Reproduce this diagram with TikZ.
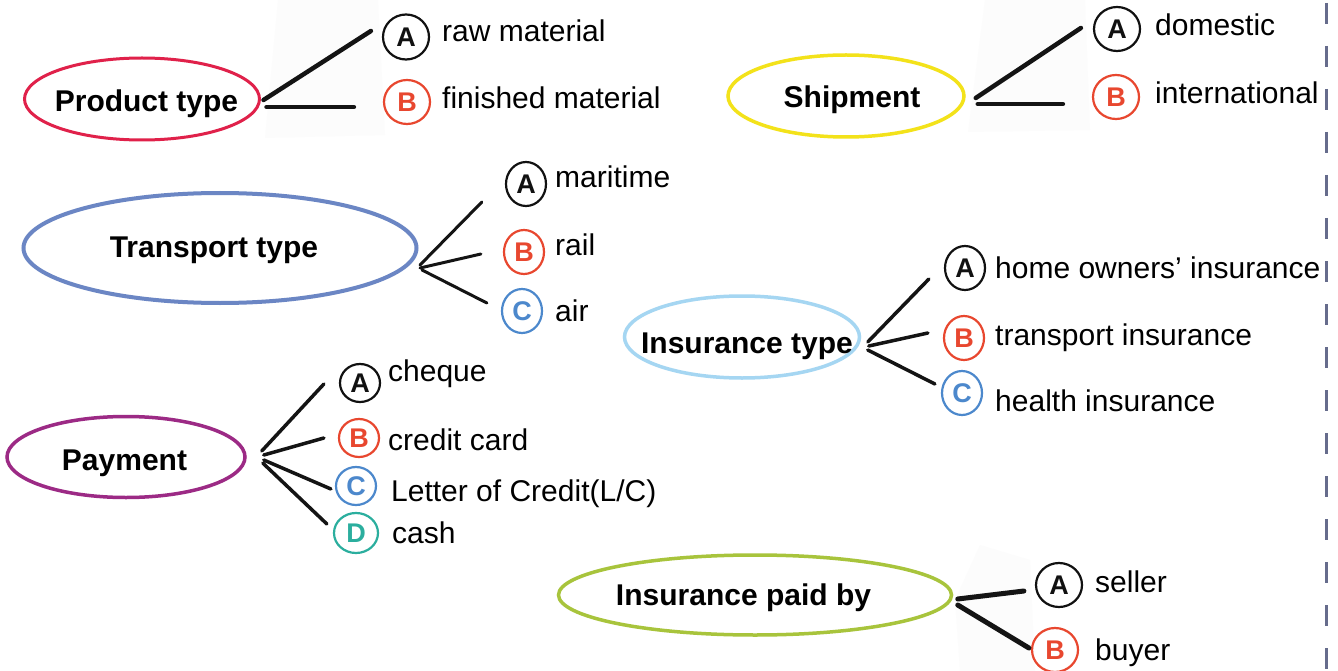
\documentclass[tikz,border=0pt]{standalone}
\usepackage{fontspec}
\setmainfont{Liberation Sans}
\usetikzlibrary{shapes.geometric}
\definecolor{cRed}{HTML}{E0214A}
\definecolor{cYellow}{HTML}{F3E21A}
\definecolor{cTrans}{HTML}{6B86C4}
\definecolor{cIns}{HTML}{A5D6F2}
\definecolor{cPay}{HTML}{9C2A85}
\definecolor{cGreen}{HTML}{A8C43C}
\definecolor{lA}{HTML}{111111}
\definecolor{lB}{HTML}{E8472F}
\definecolor{lC}{HTML}{4C88CC}
\definecolor{lD}{HTML}{2BAE9E}
\definecolor{dashgray}{HTML}{666C8C}
\definecolor{faint}{HTML}{FCFCFC}
\tikzset{
  hub/.style={ellipse, draw=#1, line width=3.5pt, inner sep=0pt},
  hubtext/.style={anchor=base, inner sep=0pt, text=black, font=\fontsize{30}{36}\selectfont\bfseries},
  opt/.style={anchor=base west, inner sep=0pt, text=black, font=\fontsize{30}{36}\selectfont},
  letter/.style={ellipse, draw=#1, text=#1, line width=2.2pt, minimum width=44pt, minimum height=44pt, inner sep=0pt, font=\fontsize{27}{30}\selectfont\bfseries},
  conn/.style={line width=#1, draw=black!92, line cap=round},
  dashline/.style={draw=dashgray, line width=2.2pt, dash pattern=on 21pt off 22pt},
}
\begin{document}
\begin{tikzpicture}[x=1pt, y=-1pt]
\fill[white] (0,0) rectangle (1338,671);
\useasboundingbox (0,0) rectangle (1338,671);
% faint scan backgrounds
\fill[faint] (278,0) -- (378,0) -- (385,135) -- (265,138) -- cycle;
\fill[faint] (985,0) -- (1085,0) -- (1090,130) -- (968,132) -- cycle;
\fill[faint] (980,545) -- (1030,560) -- (1035,671) -- (960,671) -- (955,600) -- cycle;
% right dashed rule
\draw[dashline] (1326.5,3) -- (1326.5,671);

% ---------- Product type
\node[hub=cRed, line width=3pt, minimum width=235pt, minimum height=82pt] (prodE) at (142,99) {};
\node[hubtext] (prodT) at (146.5,112) {Product type};
\node[letter=lA, minimum width=46pt, minimum height=45pt] (prodA) at (406,37) {A};
\node[letter=lB, minimum width=46pt] (prodB) at (407,102) {B};
\node[opt] (prodAt) at (442,42) {raw material};
\node[opt] (prodBt) at (442,109) {finished material};
\draw[conn=4.5pt] ([xshift=2.5,yshift=-1]prodE.east) -- ([xshift=-11,yshift=6]prodA.west);
\draw[conn=4.5pt] ([xshift=5.5,yshift=-8]prodE.east) -- ([xshift=-29,yshift=-5]prodB.west);

% ---------- Shipment
\node[hub=cYellow, minimum width=236pt, minimum height=82pt] (shipE) at (846,96) {};
\node[hubtext] (shipT) at (852,108) {Shipment};
\node[letter=lA, minimum width=46pt] (shipA) at (1117,29) {A};
\node[letter=lB, minimum width=46pt] (shipB) at (1116,97) {B};
\node[opt] (shipAt) at (1155,36) {domestic};
\node[opt] (shipBt) at (1155,104) {international};
\draw[conn=4.5pt] ([xshift=10,yshift=-2]shipE.east) -- ([xshift=-12,yshift=1]shipA.west);
\draw[conn=4.5pt] ([xshift=12,yshift=-8]shipE.east) -- ([xshift=-29,yshift=-7]shipB.west);

% ---------- Transport type
\node[hub=cTrans, line width=4pt, minimum width=393pt, minimum height=110pt] (trE) at (220,248) {};
\node[hubtext] (trT) at (214,257) {Transport type};
\node[letter=lA, minimum width=40pt] (trA) at (526,184) {A};
\node[letter=lB, minimum width=40pt] (trB) at (524,252) {B};
\node[letter=lC, minimum width=40pt] (trC) at (522,311) {C};
\node[opt] (trAt) at (555,188) {maritime};
\node[opt] (trBt) at (555,255) {rail};
\node[opt] (trCt) at (555,321) {air};
\draw[conn=3pt] ([xshift=1.5,yshift=-17]trE.east) -- ([xshift=-23,yshift=-18]trA.west);
\draw[conn=3pt] ([xshift=1.5,yshift=-20]trE.east) -- ([xshift=-22,yshift=-2]trB.west);
\draw[conn=3pt] ([xshift=3.5,yshift=-22]trE.east) -- ([xshift=-14,yshift=8]trC.west);

% ---------- Insurance type
\node[hub=cIns, minimum width=235pt, minimum height=82pt] (inE) at (742,337) {};
\node[hubtext] (inT) at (747,353) {Insurance type};
\node[letter=lA, minimum width=40pt] (inA) at (965,268) {A};
\node[letter=lB, minimum width=40pt] (inB) at (964,338) {B};
\node[letter=lC, minimum width=40pt] (inC) at (962,393) {C};
\node[opt] (inAt) at (995,278) {home owners’ insurance};
\node[opt] (inBt) at (995,345) {transport insurance};
\node[opt] (inCt) at (995,411) {health insurance};
\draw[conn=3.5pt] ([xshift=6.5,yshift=-5]inE.east) -- ([xshift=-15,yshift=-11]inA.west);
\draw[conn=3.5pt] ([xshift=7.5,yshift=-9]inE.east) -- ([xshift=-15,yshift=5]inB.west);
\draw[conn=3.5pt] ([xshift=6.5,yshift=-13]inE.east) -- ([xshift=-6,yshift=9]inC.west);

% ---------- Payment
\node[hub=cPay, minimum width=238pt, minimum height=81pt] (payE) at (126,457) {};
\node[hubtext] (payT) at (124.5,470) {Payment};
\node[letter=lA, minimum width=40pt, minimum height=38pt] (payA) at (360,383) {A};
\node[letter=lB, minimum width=40pt, minimum height=38pt] (payB) at (359,438) {B};
\node[letter=lC, minimum width=40pt, minimum height=38pt] (payC) at (356,486) {C};
\node[letter=lD, minimum width=44pt, minimum height=40pt] (payD) at (356,533) {D};
\node[opt] (payAt) at (388,381) {cheque};
\node[opt] (payBt) at (388,450) {credit card};
\node[opt] (payCt) at (391,501) {Letter of Credit(L/C)};
\node[opt] (payDt) at (392,543) {cash};
\draw[conn=3.5pt] ([xshift=15,yshift=6]payE.east) -- ([xshift=-15,yshift=-1]payA.west);
\draw[conn=3.5pt] ([xshift=17,yshift=2]payE.east) -- ([xshift=-14,yshift=0]payB.west);
\draw[conn=3.5pt] ([xshift=17,yshift=-3]payE.east) -- ([xshift=-4,yshift=-3]payC.west);
\draw[conn=3.5pt] ([xshift=16,yshift=-6]payE.east) -- ([xshift=-6,yshift=9]payD.west);

% ---------- Insurance paid by
\node[hub=cGreen, minimum width=393pt, minimum height=80pt] (pbE) at (755,595) {};
\node[hubtext] (pbT) at (743.5,605) {Insurance paid by};
\node[letter=lA, minimum width=46pt] (pbA) at (1059,585) {A};
\node[letter=lB, minimum width=46pt] (pbB) at (1055,650) {B};
\node[opt] (pbAt) at (1095,592) {seller};
\node[opt] (pbBt) at (1095,660) {buyer};
\draw[conn=5pt] ([xshift=4.5,yshift=-4]pbE.east) -- ([xshift=-11,yshift=-6]pbA.west);
\draw[conn=5pt] ([xshift=4.5,yshift=-10]pbE.east) -- ([xshift=-2,yshift=2]pbB.west);
\end{tikzpicture}
\end{document}
